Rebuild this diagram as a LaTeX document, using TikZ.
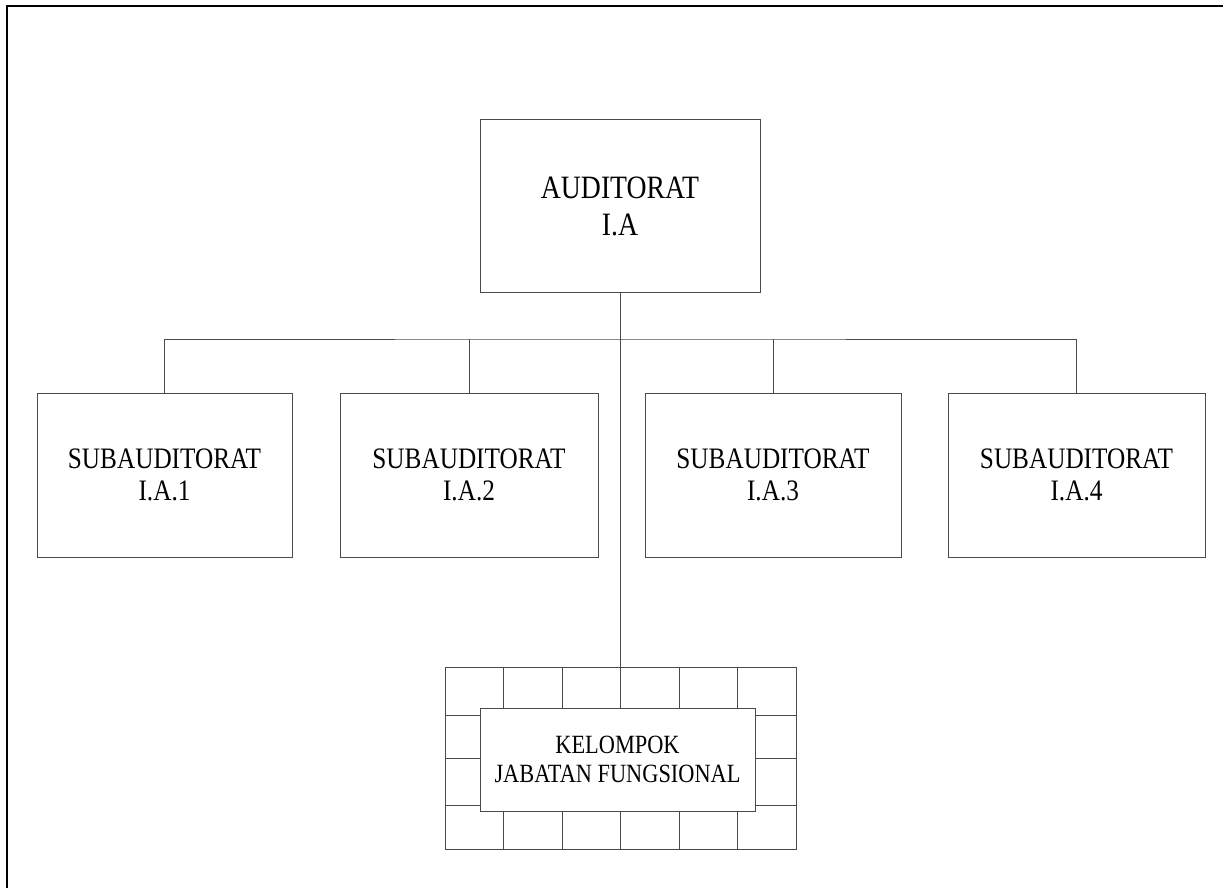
\documentclass[tikz,border=0pt]{standalone}
\usepackage{fontspec}
\setmainfont{Liberation Serif}[FakeStretch=0.85]
\definecolor{linegray}{HTML}{4A4A4A}
\begin{document}
\begin{tikzpicture}[x=1pt,y=-1pt,
  box/.style={draw=linegray,line width=1pt,rectangle,inner sep=0pt,align=center,fill=white},
  conn/.style={draw=linegray,line width=1pt},
  topfont/.style={font=\fontsize{32.6}{37}\selectfont},
  subfont/.style={font=\fontsize{29.7}{32.5}\selectfont},
  kjfont/.style={font=\fontsize{26.3}{29}\selectfont}]
\useasboundingbox (0,0) rectangle (1223,888);
\draw[line width=2pt,black] (7,888) -- (7,6) -- (1223,6);

\node[box,topfont,minimum width=280pt,minimum height=172pt] (top) at (620,206) {AUDITORAT\\I.A};
\node[box,subfont,minimum width=255pt,minimum height=164pt] (s1) at (164.5,475) {SUBAUDITORAT\\I.A.1};
\node[box,subfont,minimum width=258pt,minimum height=164pt] (s2) at (469,475) {SUBAUDITORAT\\I.A.2};
\node[box,subfont,minimum width=256pt,minimum height=164pt] (s3) at (773,475) {SUBAUDITORAT\\I.A.3};
\node[box,subfont,minimum width=257pt,minimum height=164pt] (s4) at (1076.5,475) {SUBAUDITORAT\\I.A.4};

\node[box,minimum width=351pt,minimum height=182pt] (grid) at (620.5,758) {};
\foreach \gx in {503.5,562,620.5,679,737.5}
  \draw[conn] (\gx,667) -- (\gx,849);
\foreach \gy in {715,758,805}
  \draw[conn] (445,\gy) -- (796,\gy);
\node[box,kjfont,minimum width=275pt,minimum height=103pt] (kj) at (617.5,759.5) {KELOMPOK\\JABATAN FUNGSIONAL};

\coordinate (bus) at (620,339);
\draw[conn] (s1.north) |- (bus) -| (s4.north);
\draw[conn] (s2.north) -- (s2.north |- bus);
\draw[conn] (s3.north) -- (s3.north |- bus);
\draw[conn] (top.south) -- (top.south |- grid.north);
\end{tikzpicture}
\end{document}
